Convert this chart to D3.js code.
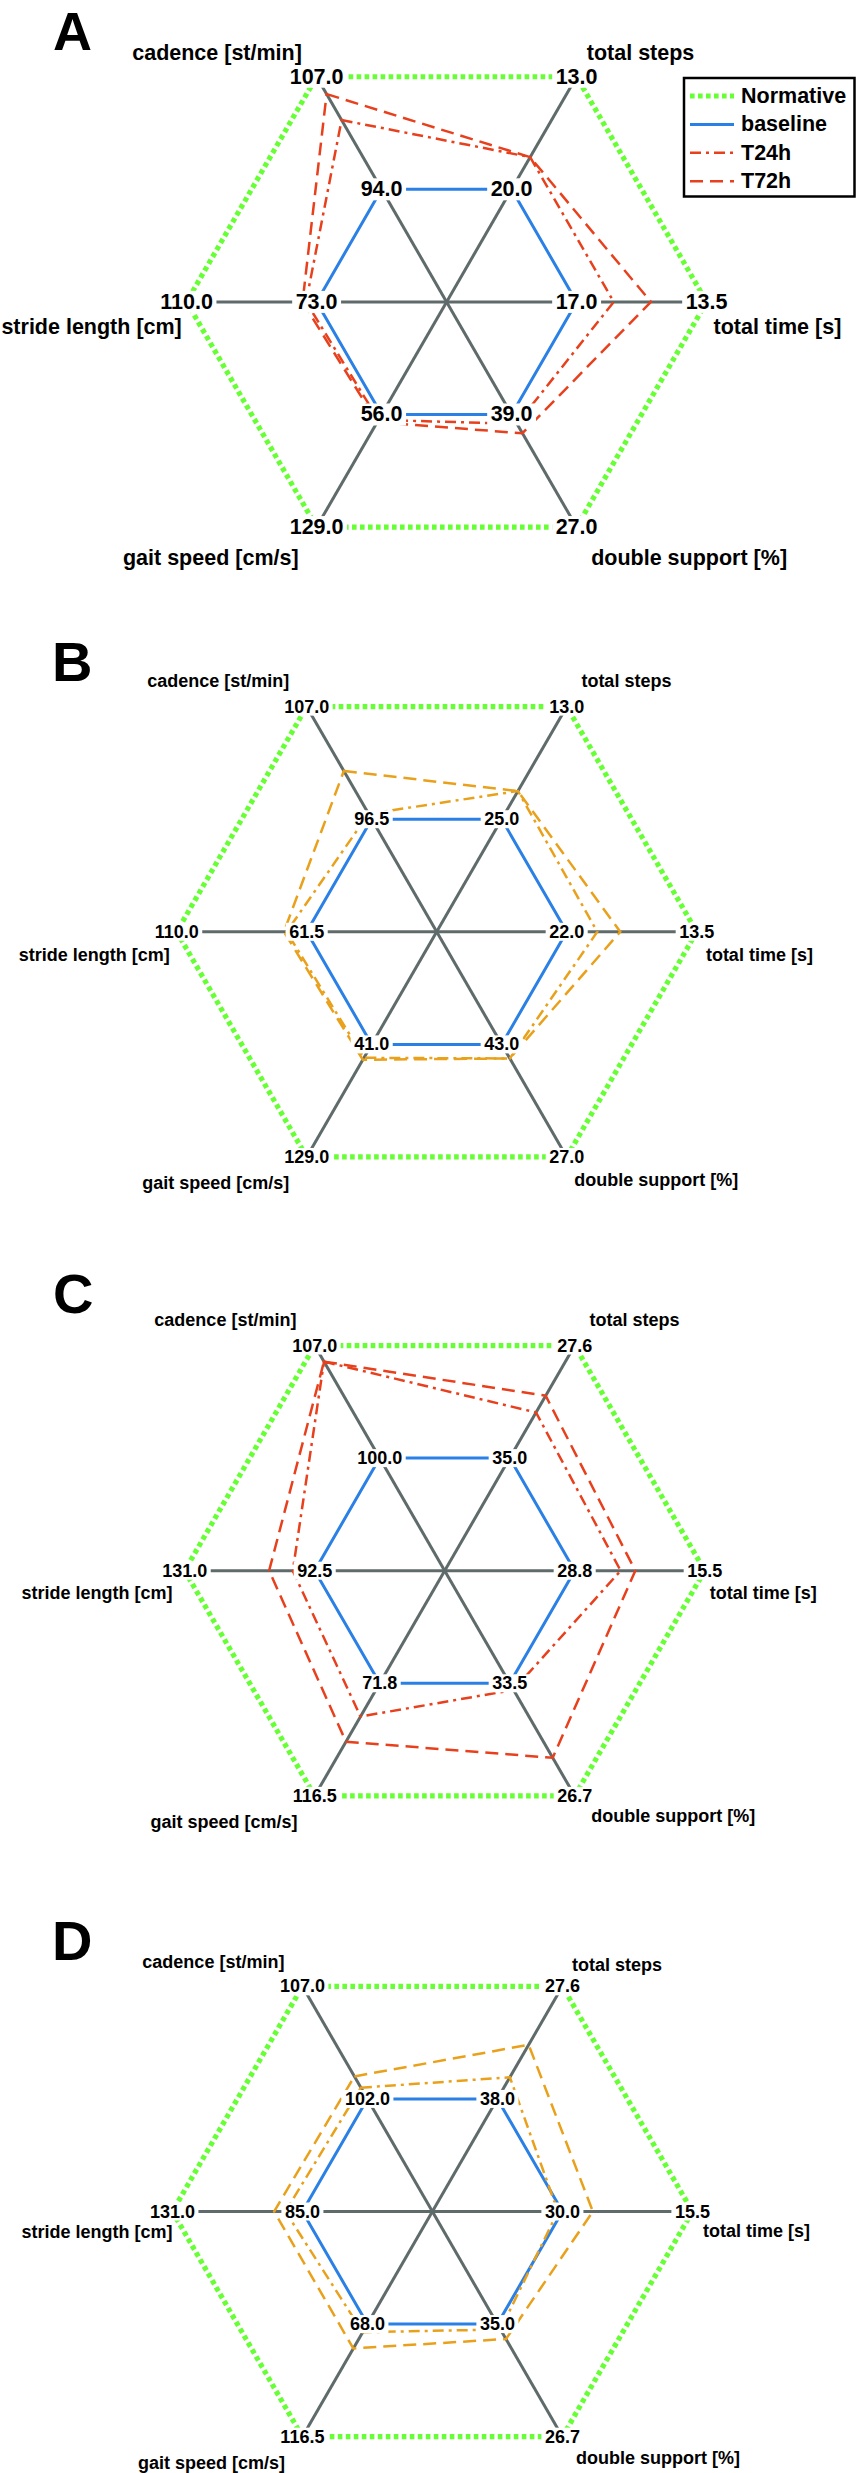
<!DOCTYPE html>
<html><head><meta charset="utf-8">
<script src="https://cdn.jsdelivr.net/npm/d3@7"></script>
<style>body{margin:0;background:#fff}svg{display:block}</style>
</head><body>
<svg id="chart" width="856" height="2473"></svg>
<script>
// ---------- data ----------
const axisNames = ["cadence [st/min]", "total steps", "total time [s]", "double support [%]", "gait speed [cm/s]", "stride length [cm]"];
const seriesNames = ["Normative", "baseline", "T24h", "T72h"];
const panelLetters = ["A", "B", "C", "D"];

const normA = [107.0, 13.0, 13.5, 27.0, 129.0, 110.0];
const baseA = [94.0, 20.0, 17.0, 39.0, 56.0, 73.0];
const t24A  = [102.0, 18.0, 16.0, 38.0, 59.5, 76.0];
const t72A  = [105.0, 18.0, 15.0, 37.0, 61.0, 77.0];

const normB = [107.0, 13.0, 13.5, 27.0, 129.0, 110.0];
const baseB = [96.5, 25.0, 22.0, 43.0, 41.0, 61.5];
const t24B  = [97.0, 22.0, 20.0, 41.0, 51.5, 69.0];
const t72B  = [101.0, 22.0, 18.5, 41.0, 53.0, 70.0];

const normC = [107.0, 27.6, 15.5, 26.7, 116.5, 131.0];
const baseC = [100.0, 35.0, 28.8, 33.5, 71.8, 92.5];
const t24C  = [106.0, 32.0, 24.1, 33.1, 85.0, 99.0];
const t72C  = [106.0, 30.9, 22.6, 29.0, 95.0, 106.0];

const normD = [107.0, 27.6, 15.5, 26.7, 116.5, 131.0];
const baseD = [102.0, 38.0, 30.0, 35.0, 68.0, 85.0];
const t24D  = [102.5, 36.0, 30.5, 34.6, 71.5, 91.0];
const t72D  = [103.0, 33.0, 26.6, 33.9, 78.5, 95.0];

const panelData = [
  {norm: normA, base: baseA, t24: t24A, t72: t72A},
  {norm: normB, base: baseB, t24: t24B, t72: t72B},
  {norm: normC, base: baseC, t24: t24C, t72: t72C},
  {norm: normD, base: baseD, t24: t24D, t72: t72D}
];

// ---------- layout / style ----------
const R = 260;
const angles = [120, 60, 0, -60, -120, 180];
const anchors = ["end", "start", "start", "start", "end", "end"];
const layout = [
  {cx: 446.6, cy: 301.9, fs: 21.5, letterX: 53, letterY: 50, letterFs: 54, color: "#e8401c", legend: true,
   off: [[-14.7,-23.7],[10.2,-23.7],[6.9,24.6],[14.6,30.9],[-18,30.9],[-4.8,24.6]]},
  {cx: 436.7, cy: 931.8, fs: 18, letterX: 52, letterY: 681, letterFs: 56, color: "#e9a11b", legend: false,
   off: [[-17.4,-25.4],[14.7,-25.4],[9.2,22.9],[7.6,23.2],[-17.4,25.9],[-6.9,22.9]]},
  {cx: 444.7, cy: 1570.7, fs: 18, letterX: 53, letterY: 1313, letterFs: 56, color: "#e8401c", legend: false,
   off: [[-18.3,-25.4],[14.8,-25.4],[5,21.8],[16.5,20.4],[-17.2,26.4],[-12.2,21.8]]},
  {cx: 432.4, cy: 2211.5, fs: 18, letterX: 52, letterY: 1960, letterFs: 56, color: "#e9a11b", legend: false,
   off: [[-18,-24.8],[9.7,-21.6],[10.6,19.1],[13.6,21.5],[-17.4,26.3],[0,20.7]]}
];
const FONT = "'Liberation Sans', Arial, Helvetica, sans-serif";
const GRAY = "#5f6a6a", GREEN = "#66ff33", BLUE = "#2b80e6";
const GREEN_W = 5.2, GREEN_DASH = "4.6,3.4";
const T24_DASH = "11,5,3,5", T72_DASH = "13,7";
const fmt = d3.format(".1f");

const svg = d3.select("#chart");

function labelWithBox(g, x, y, text, fs) {
  const grp = g.append("g");
  const t = grp.append("text")
    .attr("x", x).attr("y", y)
    .attr("text-anchor", "middle")
    .attr("dominant-baseline", "central")
    .attr("font-family", FONT).attr("font-weight", "bold")
    .attr("font-size", fs).attr("fill", "#000")
    .text(text);
  const bb = t.node().getBBox();
  grp.insert("rect", "text")
    .attr("x", bb.x - 3.5).attr("y", bb.y + 1)
    .attr("width", bb.width + 7).attr("height", bb.height - 2)
    .attr("fill", "#fff");
}

panelData.forEach((pd, p) => {
  const L = layout[p];
  const g = svg.append("g");
  const rad = a => a * Math.PI / 180;
  const scales = pd.norm.map((n, i) =>
    d3.scaleLinear().domain([pd.base[i], n]).range([0.5 * R, R]));
  const pt = (i, r) => [L.cx + r * Math.cos(rad(angles[i])), L.cy - r * Math.sin(rad(angles[i]))];
  const pts = vals => vals.map((v, i) => pt(i, scales[i](v)));
  const line = d3.line().curve(d3.curveLinearClosed);

  // axes
  angles.forEach((a, i) => {
    const [x, y] = pt(i, R);
    g.append("line").attr("x1", L.cx).attr("y1", L.cy).attr("x2", x).attr("y2", y)
      .attr("stroke", GRAY).attr("stroke-width", 3);
  });
  // series
  g.append("path").attr("d", line(pts(pd.norm))).attr("fill", "none")
    .attr("stroke", GREEN).attr("stroke-width", GREEN_W).attr("stroke-dasharray", GREEN_DASH);
  g.append("path").attr("d", line(pts(pd.base))).attr("fill", "none")
    .attr("stroke", BLUE).attr("stroke-width", 3);
  g.append("path").attr("d", line(pts(pd.t24))).attr("fill", "none")
    .attr("stroke", L.color).attr("stroke-width", 2.5).attr("stroke-dasharray", T24_DASH);
  g.append("path").attr("d", line(pts(pd.t72))).attr("fill", "none")
    .attr("stroke", L.color).attr("stroke-width", 2.5).attr("stroke-dasharray", T72_DASH);

  // value labels
  pd.norm.forEach((v, i) => {
    const [x, y] = pt(i, scales[i](v));
    labelWithBox(g, x, y, fmt(v), L.fs);
  });
  pd.base.forEach((v, i) => {
    const [x, y] = pt(i, scales[i](v));
    labelWithBox(g, x, y, fmt(v), L.fs);
  });
  // axis names
  axisNames.forEach((name, i) => {
    const [x, y] = pt(i, R);
    g.append("text")
      .attr("x", x + L.off[i][0]).attr("y", y + L.off[i][1])
      .attr("text-anchor", anchors[i]).attr("dominant-baseline", "central")
      .attr("font-family", FONT).attr("font-weight", "bold").attr("font-size", L.fs)
      .text(name);
  });
  // panel letter
  g.append("text").attr("x", L.letterX).attr("y", L.letterY)
    .attr("font-family", FONT).attr("font-weight", "bold").attr("font-size", L.letterFs)
    .text(panelLetters[p]);

  // legend
  if (L.legend) {
    const lg = g.append("g");
    lg.append("rect").attr("x", 684).attr("y", 78).attr("width", 170.5).attr("height", 118.5)
      .attr("fill", "#fff").attr("stroke", "#000").attr("stroke-width", 2.5);
    const styles = [
      {c: GREEN, w: GREEN_W, d: GREEN_DASH},
      {c: BLUE, w: 3, d: null},
      {c: L.color, w: 2.5, d: T24_DASH},
      {c: L.color, w: 2.5, d: T72_DASH}
    ];
    seriesNames.forEach((s, k) => {
      const y = 96 + k * 28.4;
      const ln = lg.append("line").attr("x1", 690).attr("x2", 734).attr("y1", y).attr("y2", y)
        .attr("stroke", styles[k].c).attr("stroke-width", styles[k].w);
      if (styles[k].d) ln.attr("stroke-dasharray", styles[k].d);
      lg.append("text").attr("x", 741).attr("y", y).attr("dominant-baseline", "central")
        .attr("font-family", FONT).attr("font-weight", "bold").attr("font-size", 21.5)
        .text(s);
    });
  }
});
</script>
</body></html>
